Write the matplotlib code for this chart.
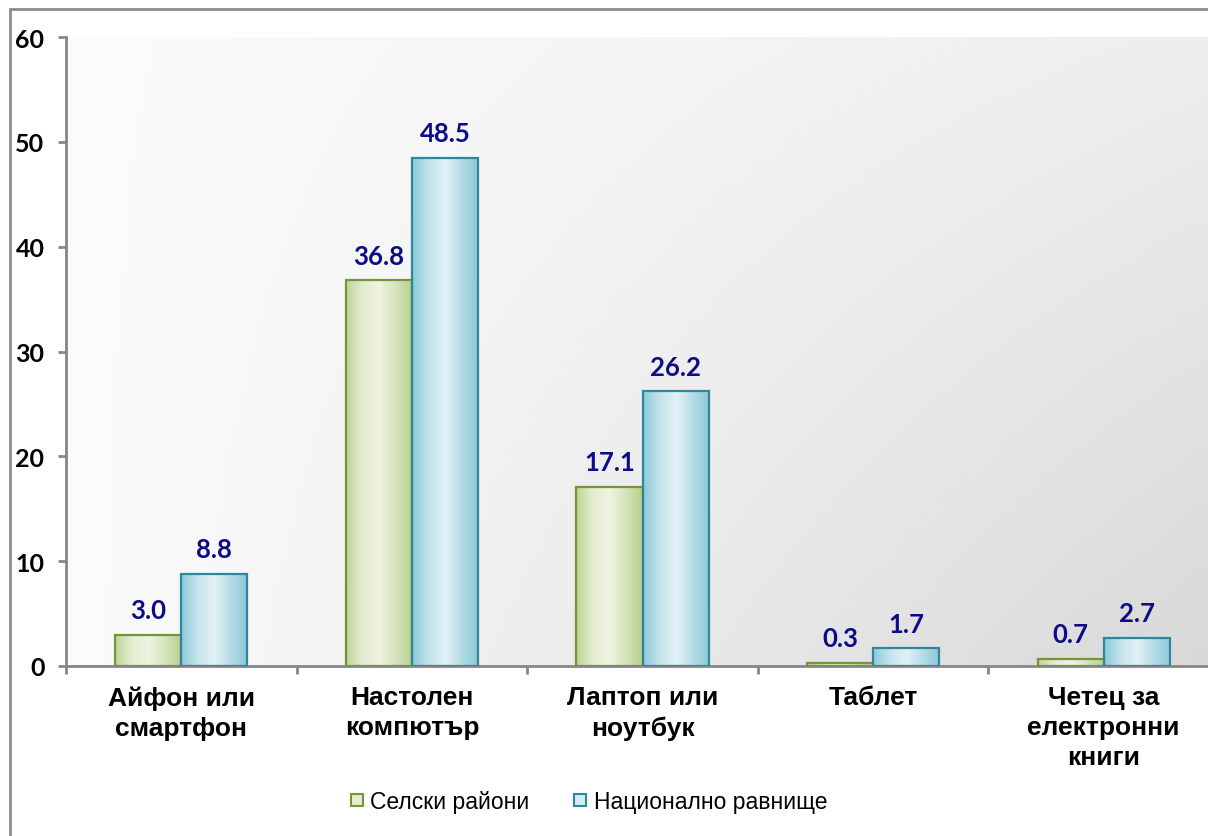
import numpy as np
import matplotlib.pyplot as plt
from matplotlib.colors import LinearSegmentedColormap
from matplotlib.patches import Rectangle
from matplotlib.lines import Line2D

categories = ["Айфон или\nсмартфон", "Настолен\nкомпютър", "Лаптоп или\nноутбук",
              "Таблет", "Четец за\nелектронни\nкниги"]
rural = [3.0, 36.8, 17.1, 0.3, 0.7]
national = [8.8, 48.5, 26.2, 1.7, 2.7]
series_names = ["Селски райони", "Национално равнище"]

green_cmap = LinearSegmentedColormap.from_list(
    "g", ["#c0d497", "#e4edd0", "#eef3e2", "#d6e3bb", "#b9cf8c"])
blue_cmap = LinearSegmentedColormap.from_list(
    "b", ["#8ccad9", "#c4e4ec", "#e2f1f5", "#b4dce6", "#8cc8d8"])
green_edge = "#77933c"
blue_edge = "#31859c"
label_color = "#0c0c88"

fig = plt.figure(figsize=(12.08, 8.37), dpi=100)
ax = fig.add_axes([66 / 1208, 170 / 837, 1153 / 1208, 629 / 837])

# grey frame around the chart
fig.patches.append(Rectangle((10 / 1208, -0.1), 1.2, 1.1 - 10 / 837,
                             transform=fig.transFigure, fill=False,
                             edgecolor="#8c8c8c", lw=2))

# plot area background: light diagonal gradient
xx, yy = np.meshgrid(np.linspace(0, 1, 200), np.linspace(1, 0, 200))
bg = (252 - 14 * xx - 22 * xx * (1 - yy)) / 255
ax.imshow(np.dstack([bg, bg, bg]), extent=[0, 1, 0, 1], transform=ax.transAxes,
          aspect="auto", zorder=0)

x = np.arange(len(categories))
w = 0.287
prof = np.linspace(0, 1, 100).reshape(1, -1)


def gradient_bars(xpos, vals, cmap, edge):
    bars = ax.bar(xpos, vals, w, facecolor="none", edgecolor=edge, lw=1.6, zorder=3)
    for b in bars:
        x0, h = b.get_x(), b.get_height()
        ax.imshow(prof, cmap=cmap, extent=[x0, x0 + w, 0, h], aspect="auto",
                  zorder=2, interpolation="bilinear")
    return bars


gradient_bars(x - w / 2, rural, green_cmap, green_edge)
gradient_bars(x + w / 2, national, blue_cmap, blue_edge)

for xpos, vals in [(x - w / 2, rural), (x + w / 2, national)]:
    for xi, v in zip(xpos, vals):
        ax.annotate(f"{v:.1f}", (xi, v), xytext=(0, 9), textcoords="offset points",
                    ha="center", va="bottom", color=label_color, fontsize=18.5,
                    fontweight="bold", family="Lato")

ax.set_xlim(-0.5, 4.5)
ax.set_ylim(0, 60)
ax.set_yticks(range(0, 61, 10))
ax.set_yticklabels([str(t) for t in range(0, 61, 10)], fontsize=18,
                   fontweight="bold", family="Lato")
ax.set_xticks(x)
ax.set_xticklabels(categories, fontsize=19, fontweight="bold",
                   family="Liberation Sans", linespacing=1.3, va="top")
ax.set_xticks(np.arange(-0.5, 5, 1), minor=True)
ax.tick_params(axis="x", which="major", length=0, pad=14)
ax.tick_params(axis="x", which="minor", length=6, width=2, color="#868686")
ax.tick_params(axis="y", length=6, width=2, color="#868686", pad=9.5)

for s in ["top", "right"]:
    ax.spines[s].set_visible(False)
for s in ["left", "bottom"]:
    ax.spines[s].set_color("#868686")
    ax.spines[s].set_linewidth(2)

handles = [Line2D([], [], marker="s", ls="none", markersize=9,
                  markerfacecolor="#e4edd0", markeredgecolor=green_edge, mew=1.5),
           Line2D([], [], marker="s", ls="none", markersize=9,
                  markerfacecolor="#d4ecf2", markeredgecolor=blue_edge, mew=1.5)]
fig.legend(handles, series_names, loc="center", bbox_to_anchor=(585 / 1208, 1 - 803 / 837),
           ncol=2, frameon=False, handletextpad=0.0, columnspacing=1.6,
           handlelength=1.2, prop={"family": "Liberation Sans", "size": 16.5})

fig.savefig("out.png", dpi=100)
